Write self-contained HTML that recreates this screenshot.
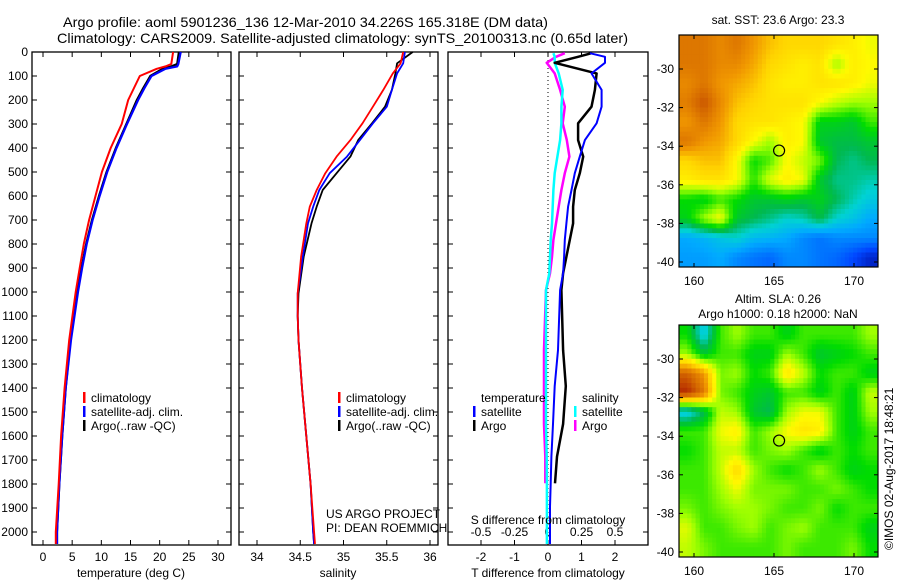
<!DOCTYPE html>
<html><head><meta charset="utf-8"><style>
html,body{margin:0;padding:0;background:#fff}
svg{display:block;font-family:"Liberation Sans",sans-serif}
</style></head><body>
<svg id="c" width="900" height="580" viewBox="0 0 900 580" xmlns="http://www.w3.org/2000/svg">
<defs>
<clipPath id="cm1"><rect x="679" y="35" width="199" height="232"/></clipPath>
<clipPath id="cm2"><rect x="679" y="325" width="199" height="232"/></clipPath></defs>
<text x="63" y="27" font-size="14" textLength="485" lengthAdjust="spacingAndGlyphs">Argo profile: aoml 5901236_136 12-Mar-2010 34.226S 165.318E (DM data)</text>
<text x="57" y="43" font-size="14" textLength="571" lengthAdjust="spacingAndGlyphs">Climatology: CARS2009. Satellite-adjusted climatology: synTS_20100313.nc (0.65d later)</text>
<g id="g"></g>
</svg>
<script>
// ---------- data ----------
const tDepth = [0,50,60,70,100,150,200,300,400,500,600,700,800,900,1000,1200,1400,1600,1800,2000,2050];
const tClim  = [22.3,22.0,21.0,19.5,16.6,15.6,14.6,13.5,11.6,10.1,9.0,7.9,7.0,6.3,5.6,4.5,3.7,3.1,2.7,2.2,2.2];
const tSat   = [23.6,23.2,23.0,21.0,18.6,17.4,16.3,14.4,12.6,11.0,9.7,8.5,7.5,6.7,6.0,4.8,3.9,3.3,2.8,2.4,2.4];
const tArgo  = [23.3,23.0,22.0,20.5,18.4,17.2,16.1,14.3,12.5,10.9,9.6,8.4,7.4,6.6,5.9,4.7,3.9,3.3,2.8,2.4,2.4];
const sDepth = [0,47,89,158,228,297,367,436,505,575,644,714,853,1005,1100,1200,1400,1600,1800,2000,2050];
const sClim  = [35.69,35.66,35.57,35.46,35.34,35.22,35.08,34.92,34.79,34.69,34.61,34.57,34.51,34.47,34.47,34.48,34.52,34.57,34.62,34.66,34.67];
const sSat   = [35.71,35.69,35.62,35.56,35.50,35.34,35.19,35.04,34.84,34.72,34.65,34.59,34.53,34.47,34.47,34.48,34.52,34.57,34.62,34.65,34.66];
const sArgo  = [35.80,35.62,35.60,35.56,35.48,35.33,35.17,35.08,34.92,34.76,34.69,34.63,34.54,34.48,34.47,34.48,34.52,34.57,34.62,34.65,34.66];
const dDepth = [5,20,45,89,158,228,297,367,436,505,575,644,714,783,853,922,992,1242,1392,1550,1686,1797,1894,2050];
const dtSat  = [1.25,1.7,1.7,1.3,1.6,1.6,1.45,1.1,0.95,0.8,0.7,0.6,0.55,0.5,0.48,0.45,0.36,0.3,0.2,0.15,0.1,0.08,0.06,0.06];
const dtArgo = [1.3,0.9,0.2,1.45,1.4,1.3,0.9,0.9,1.05,0.95,0.8,0.75,0.75,0.65,0.55,0.45,0.4,0.45,0.53,0.45,0.27,0.21,null,null];
const dsSat  = [0.04,0.05,0.05,0.08,0.11,0.10,0.10,0.09,0.07,0.05,0.04,0.035,0.03,0.02,0.015,0.01,-0.015,-0.015,-0.015,-0.015,-0.01,-0.008,-0.008,-0.008];
const dsArgo = [0.125,0.06,-0.01,0.05,0.09,0.125,0.11,0.14,0.16,0.125,0.10,0.08,0.06,0.04,0.03,0.015,-0.015,-0.03,-0.03,-0.03,-0.02,-0.02,null,null];
const depthTicks = [0,100,200,300,400,500,600,700,800,900,1000,1100,1200,1300,1400,1500,1600,1700,1800,1900,2000];
const tTicks = [0,5,10,15,20,25,30];
const sTicks = [34,34.5,35,35.5,36];
const dtTicks = [-2,-1,0,1,2];
const dsTicks = [-0.5,-0.25,0,0.25,0.5];
const dsTickLabels = ["-0.5","-0.25","0","0.25","0.5"];
const lonTicks = [160,165,170];
const latTicks = [-30,-32,-34,-36,-38,-40];
const sstGrid = [
[.85,.85,.82,.85,.80,.75,.72,.72,.72,.70,.68,.65],
[.85,.85,.82,.82,.78,.72,.70,.68,.70,.60,.68,.66],
[.82,.85,.80,.78,.75,.70,.68,.68,.70,.70,.68,.65],
[.84,.90,.82,.75,.72,.70,.70,.70,.66,.62,.60,.60],
[.80,.85,.80,.72,.70,.70,.68,.66,.50,.50,.48,.55],
[.85,.80,.78,.72,.66,.60,.68,.66,.48,.46,.46,.48],
[.72,.75,.75,.66,.52,.56,.66,.62,.58,.45,.42,.45],
[.68,.70,.70,.66,.54,.64,.68,.65,.48,.42,.42,.40],
[.52,.50,.55,.52,.48,.48,.50,.48,.50,.45,.40,.36],
[.50,.60,.66,.48,.45,.42,.38,.40,.46,.38,.35,.30],
[.30,.32,.35,.38,.33,.32,.30,.25,.22,.25,.25,.25],
[.28,.28,.30,.25,.22,.20,.25,.25,.22,.20,.15,.08]];
const slaGrid = [
[.52,.35,.55,.60,.55,.55,.50,.55,.55,.55,.55,.60],
[.60,.48,.55,.55,.50,.50,.60,.55,.48,.50,.52,.55],
[.88,.80,.58,.60,.52,.55,.70,.62,.52,.55,.55,.50],
[.95,.85,.58,.55,.50,.48,.55,.55,.50,.55,.50,.62],
[.35,.45,.62,.60,.48,.45,.60,.65,.65,.55,.50,.60],
[.55,.55,.65,.68,.55,.60,.66,.70,.68,.55,.50,.55],
[.52,.55,.62,.62,.55,.58,.60,.55,.50,.55,.52,.55],
[.55,.55,.62,.72,.60,.55,.52,.55,.60,.55,.50,.52],
[.55,.55,.60,.65,.58,.58,.58,.55,.55,.58,.55,.52],
[.58,.55,.58,.60,.60,.58,.55,.55,.58,.52,.55,.55],
[.64,.55,.55,.58,.60,.55,.58,.60,.55,.55,.55,.50],
[.62,.58,.55,.55,.55,.55,.58,.55,.55,.55,.58,.52]];
const argoLon = 165.318, argoLat = -34.226;

// ---------- helpers ----------
const NS="http://www.w3.org/2000/svg", G=document.getElementById('g');
function mk(t,a,p){const e=document.createElementNS(NS,t);for(const k in a)e.setAttribute(k,a[k]);(p||G).appendChild(e);return e;}
const Y0=52, Y1=545;
const yD = d => Y0 + d*0.24;
const xT = v => 43 + v*5.833;
const xS = v => 257 + (v-34)*86.5;
const xDT = v => 548 + v*33.5;
const xDS = v => 548 + v*134;
const lonX = v => 694 + (v-160)*16;
const latY1 = v => 69 + (-30 - v)*19.3;
const latY2 = v => 359 + (-30 - v)*19.3;

function frame(x0,x1,name){
  const r=mk('rect',{x:x0,y:Y0,width:x1-x0,height:Y1-Y0,fill:'none',stroke:'#000','stroke-width':1.3});
  
  
  depthTicks.forEach(d=>{mk('line',{x1:x0,x2:x0+5,y1:yD(d),y2:yD(d),stroke:'#000'});mk('line',{x1:x1,x2:x1-5,y1:yD(d),y2:yD(d),stroke:'#000'});});
}
function xticks(x0,x1,ticks,f,labels,name){
  ticks.forEach((t,i)=>{const x=f(t);
    mk('line',{x1:x,x2:x,y1:Y1,y2:Y1-5,stroke:'#000'});mk('line',{x1:x,x2:x,y1:Y0,y2:Y0+5,stroke:'#000'});
    const tx=mk('text',{x:x,y:Y1+16,'font-size':12,'text-anchor':'middle'});tx.textContent=labels?labels[i]:String(t);
    
    
  });
}
function line(ys,xs,fy,fx,color,w,name){
  let d='',pen=false;
  for(let i=0;i<ys.length;i++){ if(xs[i]===null){pen=false;continue;}
    d+=(pen?'L':'M')+fx(xs[i]).toFixed(1)+' '+fy(ys[i]).toFixed(1)+' ';pen=true;}
  const p=mk('path',{d:d,fill:'none',stroke:color,'stroke-width':w,'stroke-linejoin':'round'});
  
  
}
function label(x,y,s,name,opts){const t=mk('text',Object.assign({x:x,y:y,'font-size':12},opts||{}));t.textContent=s;
  
  return t;}
function legend(x,y,color,s,name){mk('rect',{x:x,y:y-10,width:2.5,height:11,fill:color});label(x+8,y,s,name);}

depthTicks.forEach(d=>{label(28,yD(d)+4,String(d),'depth-tick-label',{'text-anchor':'end'});});

// ---- panel 1: temperature
frame(32,231,'temperature-panel');
xticks(32,231,tTicks,xT,null,'temperature-x');
line(tDepth,tArgo,yD,xT,'#000',2.2,'temp-argo-line');
line(tDepth,tSat,yD,xT,'#0000ff',2.2,'temp-satellite-line');
line(tDepth,tClim,yD,xT,'#ff0000',2,'temp-climatology-line');
label(131,577,'temperature (deg C)','temperature-axis-title',{'text-anchor':'middle'});
legend(83,402,'#ff0000','climatology','temp-legend-climatology');
legend(83,416,'#0000ff','satellite-adj. clim.','temp-legend-satellite');
legend(83,430,'#000','Argo(..raw -QC)','temp-legend-argo');

// ---- panel 2: salinity
frame(239,438,'salinity-panel');
xticks(239,438,sTicks,xS,null,'salinity-x');
line(sDepth,sArgo,yD,xS,'#000',1.8,'sal-argo-line');
line(sDepth,sSat,yD,xS,'#0000ff',1.8,'sal-satellite-line');
line(sDepth,sClim,yD,xS,'#ff0000',1.8,'sal-climatology-line');
label(338,577,'salinity','salinity-axis-title',{'text-anchor':'middle'});
legend(338,402,'#ff0000','climatology','sal-legend-climatology');
legend(338,416,'#0000ff','satellite-adj. clim.','sal-legend-satellite');
legend(338,430,'#000','Argo(..raw -QC)','sal-legend-argo');
label(326,518,'US ARGO PROJECT','project-label');
label(326,532,'PI: DEAN ROEMMICH','pi-label');

// ---- panel 3: differences
frame(448,648,'difference-panel');
xticks(448,648,dtTicks,xDT,null,'t-diff-x');
dsTicks.forEach((t,i)=>{mk('line',{x1:xDS(t),x2:xDS(t),y1:Y0,y2:Y0+5,stroke:'#000'});
  label(xDS(t),536,dsTickLabels[i],'s-diff-tick-label',{'text-anchor':'middle'});});
mk('line',{x1:548,x2:548,y1:Y0,y2:Y1,stroke:'#000','stroke-dasharray':'1 3'});
line(dDepth,dsArgo,yD,xDS,'#ff00ff',2.5,'sdiff-argo-line');
line(dDepth,dsSat,yD,xDS,'#00ffff',2.5,'sdiff-satellite-line');
line(dDepth,dtArgo,yD,xDT,'#000',2.5,'tdiff-argo-line');
line(dDepth,dtSat,yD,xDT,'#0000ff',2,'tdiff-satellite-line');
label(548,524,'S difference from climatology','s-diff-axis-title',{'text-anchor':'middle'});
label(548,577,'T difference from climatology','t-diff-axis-title',{'text-anchor':'middle'});
label(481,402,'temperature','diff-legend-temperature-header');
label(582,402,'salinity','diff-legend-salinity-header');
legend(473,416,'#0000ff','satellite','diff-legend-t-satellite');
legend(473,430,'#000','Argo','diff-legend-t-argo');
legend(574,416,'#00ffff','satellite','diff-legend-s-satellite');
legend(574,430,'#ff00ff','Argo','diff-legend-s-argo');

// ---- maps
const cmapStops=[[0,[0,0,140]],[0.15,[0,70,255]],[0.3,[0,170,255]],[0.38,[0,210,210]],[0.45,[0,185,80]],[0.52,[0,220,0]],[0.6,[160,255,0]],[0.66,[255,250,0]],[0.73,[255,210,0]],[0.8,[240,150,0]],[0.88,[210,100,0]],[1,[160,0,0]]];
function cmap(v){v=Math.max(0,Math.min(1,v));
  for(let i=1;i<cmapStops.length;i++){const a=cmapStops[i-1],b=cmapStops[i];
    if(v<=b[0]){const f=(v-a[0])/(b[0]-a[0]);const c=a[1].map((x,k)=>Math.round(x+(b[1][k]-x)*f));return `rgb(${c[0]},${c[1]},${c[2]})`;}}
  return 'rgb(160,0,0)';}
function sample(grid,fy,fx){const nr=grid.length,nc=grid[0].length;
  const y=Math.max(0,Math.min(nr-1,fy-0.5)),x=Math.max(0,Math.min(nc-1,fx-0.5));
  const i=Math.floor(y),j=Math.floor(x),i2=Math.min(nr-1,i+1),j2=Math.min(nc-1,j+1),dy=y-i,dx=x-j;
  return grid[i][j]*(1-dx)*(1-dy)+grid[i][j2]*dx*(1-dy)+grid[i2][j]*(1-dx)*dy+grid[i2][j2]*dx*dy;}
function map(grid,y0,latY,clip,name){
  const cg=mk('g',{'clip-path':'url(#'+clip+')'});
  
  
  const nr=grid.length,nc=grid[0].length,S=4,W=199,H=232;
  const cw=W/(nc*S),ch=H/(nr*S);
  for(let i=0;i<nr*S;i++)for(let j=0;j<nc*S;j++){
    const v=sample(grid,(i+0.5)/S,(j+0.5)/S);
    const c=mk('rect',{x:(679+j*cw).toFixed(2),y:(y0+i*ch).toFixed(2),width:(cw+0.6).toFixed(2),height:(ch+0.6).toFixed(2),fill:cmap(v)},cg);
    
    
  }
  const fr=mk('rect',{x:679,y:y0,width:199,height:232,fill:'none',stroke:'#000','stroke-width':1.2});
  
  
  lonTicks.forEach(l=>{const x=lonX(l);mk('line',{x1:x,x2:x,y1:y0,y2:y0+4,stroke:'#000'});mk('line',{x1:x,x2:x,y1:y0+232,y2:y0+228,stroke:'#000'});
    label(x,y0+250,String(l),name+'-lon-label',{'text-anchor':'middle'});});
  latTicks.forEach(l=>{const y=latY(l);mk('line',{x1:679,x2:683,y1:y,y2:y,stroke:'#000'});mk('line',{x1:878,x2:874,y1:y,y2:y,stroke:'#000'});
    label(674,y+4,String(l),name+'-lat-label',{'text-anchor':'end'});});
  const m=mk('circle',{cx:lonX(argoLon),cy:latY(argoLat),r:5.5,fill:'none',stroke:'#000','stroke-width':1.2});
  
  
}
map(sstGrid,35,latY1,'cm1','sst-map');
label(778,24,'sat. SST: 23.6 Argo: 23.3','sst-map-title',{'text-anchor':'middle'});
map(slaGrid,325,latY2,'cm2','sla-map');
label(778,303,'Altim. SLA: 0.26','sla-map-title',{'text-anchor':'middle'});
label(778,318,'Argo h1000: 0.18 h2000: NaN','sla-map-subtitle',{'text-anchor':'middle'});
label(0,0,'©IMOS 02-Aug-2017 18:48:21','copyright-label',{transform:'translate(893,550) rotate(-90)'});
</script>
</body></html>
